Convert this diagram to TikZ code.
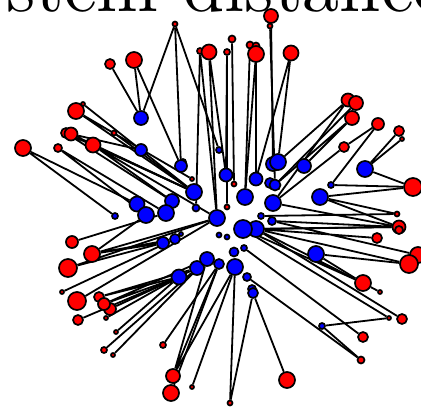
\documentclass[tikz,border=0pt]{standalone}
\usepackage{fontspec}
\newfontfamily\ttlfont{lmroman10-regular}[Extension=.otf]
\usetikzlibrary{backgrounds}
\tikzset{
  rnode/.style={circle,draw=black,line width=1.7pt,fill=red,inner sep=0pt,minimum size=#1},
  bnode/.style={circle,draw=black,line width=1.7pt,fill=blue,inner sep=0pt,minimum size=#1},
  link/.style={draw=black,line width=1.8pt},
  ttl/.style={inner sep=0pt,anchor=base west,font=\ttlfont\fontsize{74pt}{80pt}\selectfont}
}
\begin{document}
\begin{tikzpicture}[x=1pt,y=-1pt]
  \useasboundingbox (0,0) rectangle (421,409);
  \node[ttl] (title) at (6,12) {stem distance};
  % red nodes
  \node[rnode=5pt] (r1) at (175,24) {};
  \node[rnode=10pt] (r2) at (110,64) {};
  \node[rnode=16pt] (r3) at (134,60) {};
  \node[rnode=4pt] (r4) at (83,104) {};
  \node[rnode=16pt] (r5) at (76,111) {};
  \node[rnode=10pt] (r6) at (66,133) {};
  \node[rnode=13pt] (r7) at (71,134) {};
  \node[rnode=5pt] (r8) at (114,133) {};
  \node[rnode=15pt] (r9) at (93,145) {};
  \node[rnode=16pt] (r10) at (23,148) {};
  \node[rnode=8pt] (r11) at (58,148) {};
  \node[rnode=6pt] (r12) at (200,51) {};
  \node[rnode=15pt] (r13) at (209,52) {};
  \node[rnode=7pt] (r14) at (232,39) {};
  \node[rnode=6pt] (r15) at (227,52) {};
  \node[rnode=7pt] (r16) at (250,45) {};
  \node[rnode=7pt] (r17) at (256,46) {};
  \node[rnode=16pt] (r18) at (256,54) {};
  \node[rnode=14pt] (r19) at (271,16) {};
  \node[rnode=5pt] (r20) at (270,26) {};
  \node[rnode=15pt] (r21) at (291,53) {};
  \node[rnode=13pt] (r22) at (348,100) {};
  \node[rnode=14pt] (r23) at (356,103) {};
  \node[rnode=14pt] (r24) at (352,118) {};
  \node[rnode=12pt] (r25) at (378,124) {};
  \node[rnode=10pt] (r26) at (399,131) {};
  \node[rnode=4pt] (r27) at (402,139) {};
  \node[rnode=10pt] (r28) at (344,147) {};
  \node[rnode=18pt] (r29) at (413,187) {};
  \node[rnode=5pt] (r30) at (397,214) {};
  \node[rnode=13pt] (r31) at (399,227) {};
  \node[rnode=8pt] (r31b) at (399,230) {};
  \node[rnode=10pt] (r32) at (377,238) {};
  \node[rnode=16pt] (r33) at (418,255) {};
  \node[rnode=18pt] (r34) at (409,264) {};
  \node[rnode=16pt] (r35) at (363,283) {};
  \node[rnode=4pt] (r36) at (380,292) {};
  \node[rnode=4pt] (r37) at (389,318) {};
  \node[rnode=10pt] (r38) at (402,319) {};
  \node[rnode=10pt] (r39) at (363,337) {};
  \node[rnode=7pt] (r40) at (361,360) {};
  \node[rnode=16pt] (r41) at (287,380) {};
  \node[rnode=5pt] (r42) at (230,403) {};
  \node[rnode=4pt] (r43) at (192,387) {};
  \node[rnode=16pt] (r44) at (171,393) {};
  \node[rnode=14pt] (r45) at (173,376) {};
  \node[rnode=6pt] (r46) at (163,345) {};
  \node[rnode=6pt] (r47) at (104,350) {};
  \node[rnode=4pt] (r48) at (113,355) {};
  \node[rnode=4pt] (r49) at (116,332) {};
  \node[rnode=4pt] (r50) at (106,318) {};
  \node[rnode=10pt] (r51) at (78,320) {};
  \node[rnode=12pt] (r52) at (110,309) {};
  \node[rnode=10pt] (r54) at (99,297) {};
  \node[rnode=12pt] (r53) at (104,304) {};
  \node[rnode=18pt] (r55) at (77,301) {};
  \node[rnode=4pt] (r56) at (62,292) {};
  \node[rnode=18pt] (r57) at (68,268) {};
  \node[rnode=16pt] (r58) at (92,254) {};
  \node[rnode=12pt] (r59) at (72,242) {};
  \node[rnode=4pt] (r60) at (192,179) {};
  \node[rnode=5pt] (r61) at (234,184) {};
  \node[rnode=5pt] (r62) at (227,207) {};
  % blue nodes
  \node[bnode=14pt] (b1) at (141,118) {};
  \node[bnode=12pt] (b2) at (141,150) {};
  \node[bnode=6pt] (b4) at (183,162) {};
  \node[bnode=12pt] (b3) at (181,166) {};
  \node[bnode=16pt] (b5) at (194,192) {};
  \node[bnode=15pt] (b6) at (137,204) {};
  \node[bnode=16pt] (b7) at (146,215) {};
  \node[bnode=14pt] (b8) at (172,201) {};
  \node[bnode=16pt] (b9) at (166,213) {};
  \node[bnode=6pt] (b10) at (115,216) {};
  \node[bnode=7pt] (b11) at (196,208) {};
  \node[bnode=6pt] (b12) at (219,150) {};
  \node[bnode=13pt] (b13) at (226,175) {};
  \node[bnode=13pt] (b14) at (256,179) {};
  \node[bnode=14pt] (b16) at (273,164) {};
  \node[bnode=16pt] (b15) at (278,162) {};
  \node[bnode=14pt] (b17) at (304,166) {};
  \node[bnode=16pt] (b18) at (365,169) {};
  \node[bnode=10pt] (b19a) at (270,183) {};
  \node[bnode=11pt] (b19) at (275,185) {};
  \node[bnode=16pt] (b20) at (245,197) {};
  \node[bnode=16pt] (b21) at (320,197) {};
  \node[bnode=6pt] (b22) at (331,185) {};
  \node[bnode=16pt] (b23) at (273,203) {};
  \node[bnode=16pt] (b24) at (217,218) {};
  \node[bnode=6pt] (b25) at (261,216) {};
  \node[bnode=8pt] (b26) at (272,221) {};
  \node[bnode=16pt] (b28) at (256,229) {};
  \node[bnode=18pt] (b27) at (243,229) {};
  \node[bnode=5pt] (b29) at (219,235) {};
  \node[bnode=5pt] (b30) at (227,237) {};
  \node[bnode=12pt] (b31) at (163,243) {};
  \node[bnode=10pt] (b32) at (175,239) {};
  \node[bnode=4pt] (b33) at (181,234) {};
  \node[bnode=15pt] (b34) at (179,277) {};
  \node[bnode=14pt] (b35) at (197,268) {};
  \node[bnode=14pt] (b36) at (207,259) {};
  \node[bnode=10pt] (b37) at (219,264) {};
  \node[bnode=16pt] (b38) at (235,267) {};
  \node[bnode=9pt] (b39) at (234,252) {};
  \node[bnode=6pt] (b40) at (244,248) {};
  \node[bnode=8pt] (b41) at (247,277) {};
  \node[bnode=8pt] (b42) at (252,289) {};
  \node[bnode=10pt] (b43) at (253,293) {};
  \node[bnode=16pt] (b44) at (316,254) {};
  \node[bnode=6pt] (b45) at (322,326) {};
  \begin{scope}[on background layer]
    % top
    \draw[link] (r1) -- (b1) (r1) -- (b3) (r1) -- (b12);
    \draw[link] (r2) -- (b1);
    \draw[link] (r3) -- (b1) (r3) -- (b3);
    \draw[link] (r12) -- (b24) (r12) -- (b11);
    \draw[link] (r13) -- (b13) (r13) -- (b24);
    \draw[link] (r14) -- (r61);
    \draw[link] (r15) -- (b13) (r15) -- (r62);
    \draw[link] (r16) -- (b20);
    \draw[link] (r17) -- (b14);
    \draw[link] (r18) -- (b14) (r18) -- (b20);
    \draw[link] (r19) -- (b16);
    \draw[link] (r20) -- (b19);
    \draw[link] (r21) -- (b15) (r21) -- (b14);
    % upper left
    \draw[link] (r5) -- (r60) (r5) -- (b5);
    \draw[link] (r4) -- (b5);
    \draw[link] (r6) -- (b5) (r6) -- (b8);
    \draw[link] (r7) -- (b2) (r7) -- (b5);
    \draw[link] (r8) -- (b5);
    \draw[link] (r9) -- (b5) (r9) -- (b24) (r9) -- (b8);
    \draw[link] (r10) -- (b6) (r10) -- (b10);
    \draw[link] (r11) -- (b7) (r11) -- (b9);
    % upper right
    \draw[link] (r22) -- (b15) (r22) -- (b23);
    \draw[link] (r23) -- (b19);
    \draw[link] (r24) -- (b19) (r24) -- (b17);
    \draw[link] (r25) -- (r28) (r25) -- (b22);
    \draw[link] (r28) -- (b23);
    \draw[link] (r26) -- (b18) (r27) -- (b18);
    \draw[link] (b18) -- (r29) (b22) -- (r29);
    \draw[link] (b21) -- (r29) (b21) -- (r30) (b21) -- (r31);
    \draw[link] (b26) -- (r31) (b25) -- (r30) (b23) -- (r31) (b27) -- (r31);
    \draw[link] (b28) -- (r31) (b28) -- (r32) (b28) -- (r34) (b26) -- (r33);
    \draw[link] (b44) -- (r34);
    % lower right
    \draw[link] (b44) -- (r35) (r35) -- (r36);
    \draw[link] (b28) -- (r35) (b27) -- (r35);
    \draw[link] (b27) -- (r37) (b28) -- (r38);
    \draw[link] (r37) -- (b45) (b45) -- (r40);
    \draw[link] (b40) -- (r39) (b41) -- (r40);
    \draw[link] (b43) -- (r41) (b43) -- (r42) (b38) -- (r42);
    % lower left
    \draw[link] (r59) -- (b9);
    \draw[link] (r58) -- (b31) (r58) -- (b32) (r58) -- (b7) (r58) -- (b24);
    \draw[link] (r57) -- (b31) (r57) -- (b24);
    \draw[link] (r56) -- (b32);
    \draw[link] (r55) -- (b24);
    \draw[link] (r54) -- (b34) (r54) -- (b35);
    \draw[link] (r53) -- (b34) (r53) -- (b36);
    \draw[link] (r52) -- (b35) (r52) -- (b34);
    \draw[link] (r51) -- (b34) (r50) -- (b34) (r49) -- (b34);
    \draw[link] (r47) -- (b35) (r48) -- (b36);
    \draw[link] (r46) -- (b37);
    \draw[link] (r45) -- (b36) (r45) -- (b37) (r45) -- (b38);
    \draw[link] (r44) -- (b37) (r43) -- (b38);
  \end{scope}
\end{tikzpicture}
\end{document}
